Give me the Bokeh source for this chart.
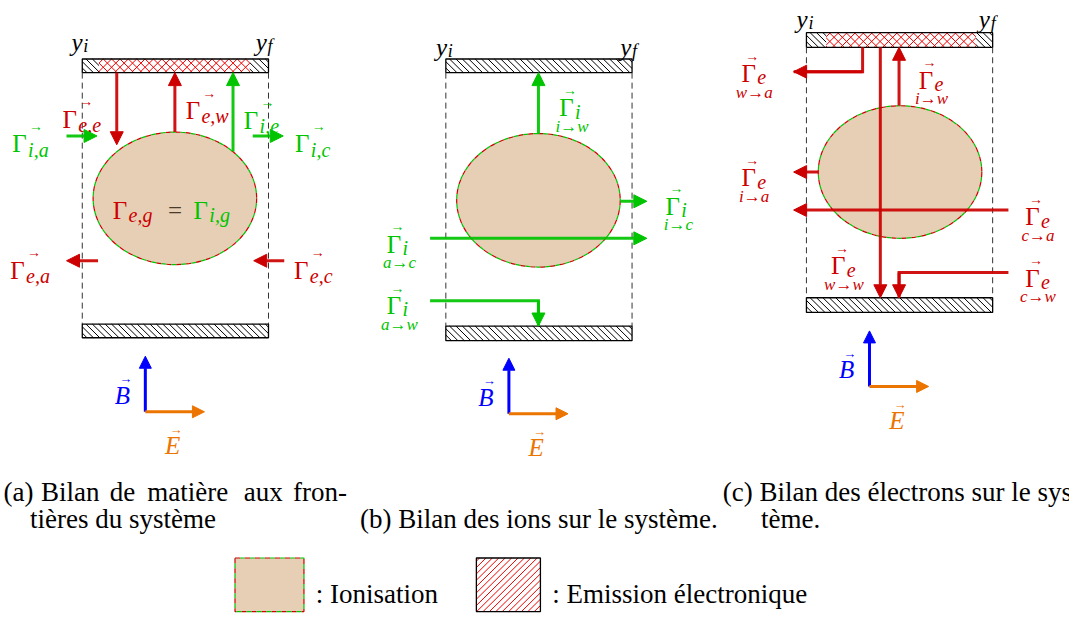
from bokeh.plotting import figure
from bokeh.models import Range1d, Arrow, NormalHead
from bokeh.core.properties import value
from bokeh.embed import file_html
from bokeh.resources import INLINE

RED = "#CC0000"
GREEN = "#00C400"
BLUE = "#0000FF"
ORANGE = "#EC7400"
TAN = "#E6CFB5"
HATCH_RED = "#EE0000"
SERIF = "Liberation Serif"

# ---- geometry of the three panels (reference pixel frame) ----
wall_left = [83, 83, 452, 452, 818, 818]
wall_right = [272, 272, 641, 641, 1007, 1007]
wall_top = [60, 332, 60, 334, 33, 305]
wall_bottom = [74, 346, 74, 349, 48, 320]

emis_left = [100, 838]
emis_right = [253, 990]
emis_top = [60, 33]
emis_bottom = [74, 48]

dash_x = [83, 272, 452, 641, 818, 1007]
dash_y0 = [74, 74, 74, 74, 48, 48]
dash_y1 = [332, 332, 334, 334, 305, 305]

ell_x = [177, 546, 913]
ell_y = [203, 205, 176]
ell_w = [166, 166, 166]
ell_h = [136, 137, 136]

# straight flux arrows: x0, y0, x1, y1, colour
arr_x0 = [118, 177, 236, 67, 256, 99, 288, 546, 629, 436, 893, 912, 830, 1023]
arr_y0 = [74, 135, 155, 139, 139, 267, 267, 137, 206, 244, 48, 108, 176, 215]
arr_x1 = [118, 177, 236, 98, 287, 67, 257, 546, 656, 656, 893, 912, 805, 805]
arr_y1 = [148, 74, 74, 139, 139, 267, 267, 74, 206, 244, 305, 48, 176, 215]
arr_c = [RED, RED, GREEN, GREEN, GREEN, RED, RED, GREEN, GREEN, GREEN, RED, RED, RED, RED]

# bent flux arrows (polylines, head on last point)
poly_xs = [[436, 546, 546], [875, 875, 805], [1023, 912, 912]]
poly_ys = [[308, 308, 334], [48, 73, 73], [279, 279, 305]]
poly_c = [GREEN, RED, RED]

# panel (a) flux labels: x, baseline, subscript, colour
ga_x = [63, 188, 247, 12, 299, 10, 298]
ga_y = [122, 113, 123, 147, 147, 277, 277]
ga_sub = ["e,e", "e,w", "i,e", "i,a", "i,c", "e,a", "e,c"]
ga_c = [RED, RED, GREEN, GREEN, GREEN, RED, RED]

# panels (b),(c) flux labels: x, baseline, species, path, colour
gb_x = [567, 675, 392, 392, 752, 932, 752, 1040, 843, 1040]
gb_y = [110, 211, 250, 313, 75, 82, 182, 222, 272, 285]
gb_sp = ["i", "i", "i", "i", "e", "e", "e", "e", "e", "e"]
gb_path = ["i→w", "i→c", "a→c", "a→w", "w→a", "i→w", "i→a", "c→a", "w→w", "c→w"]
gb_c = [GREEN, GREEN, GREEN, GREEN, RED, RED, RED, RED, RED, RED]

# y_i / y_f labels
yl_x = [72, 259, 442, 629, 808, 993]
yl_y = [43, 43, 48, 48, 19, 19]
yl_sub = ["i", "f", "i", "f", "i", "f"]

# B/E frames: origin
fr_x = [147, 516, 882]
fr_y = [422, 424, 396]

# captions
cap_words = ["(a)", "Bilan", "de", "matière", "aux", "fron-"]
cap_words_x = [3, 41, 111, 149, 247, 297]
cap_text = ["tières du système", "(b) Bilan des ions sur le système.",
            "(c) Bilan des électrons sur le sys-", "tème."]
cap_x = [30, 365, 733, 772]
cap_y = [532, 532, 504, 532]

legend_text = [": Ionisation", ": Emission électronique"]
legend_text_x = [320, 560]


# ---- hatch helpers (lines clipped to a rectangle) ----
def back_hatch(x0, x1, y0, y1, s):
    """lines going right-down ("\\")"""
    xs0, ys0, xs1, ys1 = [], [], [], []
    c = y0 - x1 + s / 2.0
    while c < y1 - x0:
        a = max(x0, y0 - c)
        b = min(x1, y1 - c)
        if b > a:
            xs0.append(a); ys0.append(a + c); xs1.append(b); ys1.append(b + c)
        c += s
    return xs0, ys0, xs1, ys1


def fwd_hatch(x0, x1, y0, y1, s):
    """lines going right-up ("/")"""
    xs0, ys0, xs1, ys1 = [], [], [], []
    c = x0 + y0 + s / 2.0
    while c < x1 + y1:
        a = max(x0, c - y1)
        b = min(x1, c - y0)
        if b > a:
            xs0.append(a); ys0.append(c - a); xs1.append(b); ys1.append(c - b)
        c += s
    return xs0, ys0, xs1, ys1


def add_hatch(p, segs, color, width=1.0):
    p.segment(x0=segs[0], y0=segs[1], x1=segs[2], y1=segs[3], line_color=color,
              line_width=width)


# ---------------------------------------------------------------
p = figure(width=1069, height=615, x_range=Range1d(0, 1085), y_range=Range1d(631, 0),
           output_backend="svg", toolbar_location=None, min_border=0)
p.xaxis.visible = False
p.yaxis.visible = False
p.grid.visible = False
p.outline_line_color = None

# walls
for l, r, t, b in zip(wall_left, wall_right, wall_top, wall_bottom):
    add_hatch(p, back_hatch(l, r, t, b, 6.5), "black")
p.quad(left=emis_left, right=emis_right, top=emis_top, bottom=emis_bottom,
       fill_color="white", line_color=None)
for l, r, t, b in zip(emis_left, emis_right, emis_top, emis_bottom):
    add_hatch(p, back_hatch(l, r, t, b, 8.5), HATCH_RED)
    add_hatch(p, fwd_hatch(l, r, t, b, 8.5), HATCH_RED)
p.quad(left=wall_left, right=wall_right, top=wall_top, bottom=wall_bottom,
       fill_color=None, line_color="black", line_width=1.3)

# system boundaries
p.segment(x0=dash_x, y0=dash_y0, x1=dash_x, y1=dash_y1, line_color="#333333",
          line_width=1, line_dash="6 4")

# ionisation zones
p.ellipse(x=ell_x, y=ell_y, width=ell_w, height=ell_h, fill_color=TAN, line_color=None)
p.ellipse(x=ell_x, y=ell_y, width=ell_w, height=ell_h, fill_color=None,
          line_color=RED, line_width=1.2, line_dash="5 5")
p.ellipse(x=ell_x, y=ell_y, width=ell_w, height=ell_h, fill_color=None,
          line_color=GREEN, line_width=1.2, line_dash="5 5", line_dash_offset=5)

# legend swatches
p.quad(left=[238], right=[308], top=[572], bottom=[627], fill_color=TAN, line_color=None)
p.quad(left=[238], right=[308], top=[572], bottom=[627], fill_color=None,
       line_color=RED, line_width=1.2, line_dash="5 5")
p.quad(left=[238], right=[308], top=[572], bottom=[627], fill_color=None,
       line_color=GREEN, line_width=1.2, line_dash="5 5", line_dash_offset=5)
add_hatch(p, fwd_hatch(483, 548, 572, 627, 6.5), HATCH_RED)
p.quad(left=[483], right=[548], top=[572], bottom=[627], fill_color=None,
       line_color="black", line_width=1.3)

# bent arrows
p.multi_line(xs=poly_xs, ys=poly_ys, line_color=poly_c, line_width=3, line_join="miter",
             line_alpha=0.92)

# ---- texts: grouped by style so each call has scalar font properties ----
groups = {}


def put(x, y, t, size, color="black", style="normal", align="left"):
    g = groups.setdefault((size, color, style, align), ([], [], []))
    g[0].append(x); g[1].append(y); g[2].append(t)


for x, y, s, c in zip(ga_x, ga_y, ga_sub, ga_c):
    put(x, y, "Γ", "25px", c)
    put(x + 16, y + 6, s, "20px", c, "italic")
    put(x + 24, y - 18, "→", "14px", c, "normal", "center")

for x, y, s, path, c in zip(gb_x, gb_y, gb_sp, gb_path, gb_c):
    put(x, y, "Γ", "25px", c)
    put(x + 16, y + 4, s, "20px", c, "italic")
    put(x + 11, y - 18, "→", "14px", c, "normal", "center")
    put(x + 13, y + 19, path, "17px", c, "italic", "center")

# central equality in panel (a)
put(114, 215, "Γ", "25px", RED)
put(130, 220, "e,g", "20px", RED, "italic")
put(170, 215, "=", "25px", "#4A3A2C")
put(196, 215, "Γ", "25px", GREEN)
put(212, 220, "i,g", "20px", GREEN, "italic")

for x, y, s in zip(yl_x, yl_y, yl_sub):
    put(x, y, "y", "25px", "black", "italic")
    put(x + 12, y + 4, s, "18px", "black", "italic")

for ox, oy in zip(fr_x, fr_y):
    put(ox - 31, oy - 17, "B", "25px", BLUE, "italic")
    put(ox - 20, oy - 34, "→", "13px", BLUE, "normal", "center")
    put(ox + 20, oy + 35, "E", "25px", ORANGE, "italic")
    put(ox + 31, oy + 18, "→", "13px", ORANGE, "normal", "center")

for w, x in zip(cap_words, cap_words_x):
    put(x, 504, w, "27px")
for t, x, y in zip(cap_text, cap_x, cap_y):
    put(x, y, t, "27px")
for t, x in zip(legend_text, legend_text_x):
    put(x, 609, t, "27px")

for (size, color, style, align), (xs, ys, ts) in groups.items():
    p.text(x=xs, y=ys, text=ts, text_font=value(SERIF), text_font_size=size,
           text_color=color, text_font_style=style, text_align=align,
           text_baseline="alphabetic")

# arrows (annotations, drawn on top)
for xs, ys, c in zip(poly_xs, poly_ys, poly_c):
    p.add_layout(Arrow(end=NormalHead(size=13, fill_color=c, line_color=c, line_width=1),
                       x_start=xs[-2], y_start=ys[-2], x_end=xs[-1], y_end=ys[-1],
                       line_color=c, line_width=3, line_alpha=0.92))

for x0, y0, x1, y1, c in zip(arr_x0, arr_y0, arr_x1, arr_y1, arr_c):
    p.add_layout(Arrow(end=NormalHead(size=13, fill_color=c, line_color=c, line_width=1),
                       x_start=x0, y_start=y0, x_end=x1, y_end=y1,
                       line_color=c, line_width=3, line_alpha=0.92))

for ox, oy in zip(fr_x, fr_y):
    p.add_layout(Arrow(end=NormalHead(size=12, fill_color=BLUE, line_color=BLUE, line_width=1),
                       x_start=ox, y_start=oy, x_end=ox, y_end=oy - 57,
                       line_color=BLUE, line_width=3))
    p.add_layout(Arrow(end=NormalHead(size=12, fill_color=ORANGE, line_color=ORANGE, line_width=1),
                       x_start=ox, y_start=oy, x_end=ox + 60, y_end=oy,
                       line_color=ORANGE, line_width=3))

open("out.html", "w").write(file_html(p, INLINE))
